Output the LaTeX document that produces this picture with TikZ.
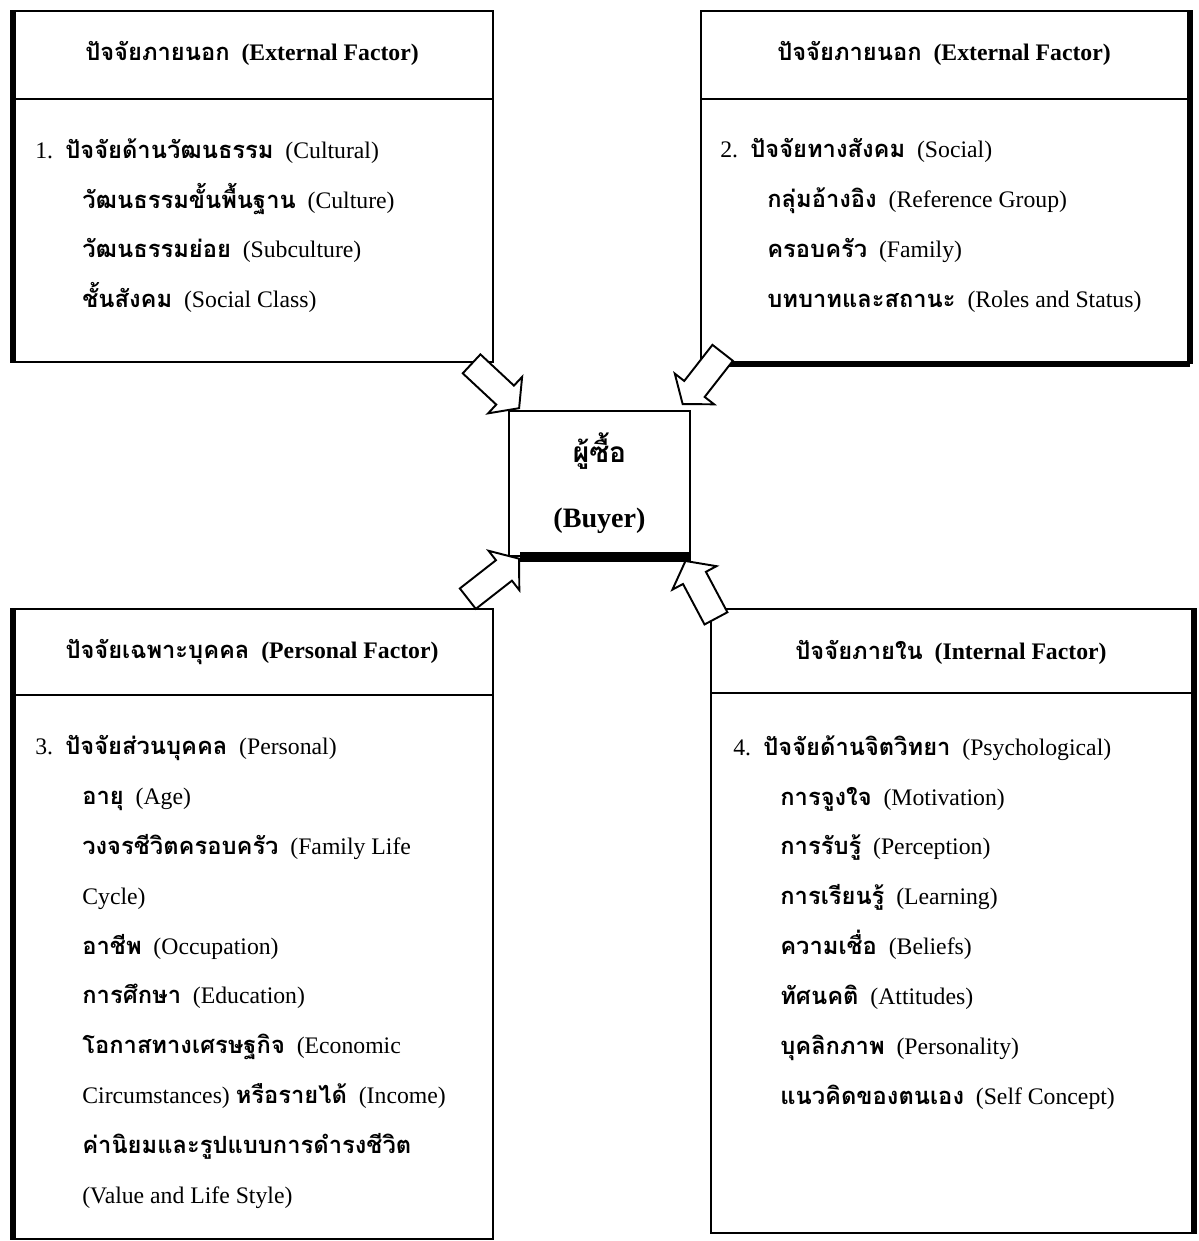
\documentclass[tikz,border=0pt]{standalone}
\usepackage{fontspec}
\setmainfont{Liberation Serif}
\newfontfamily\thaifont[Script=Thai]{Loma}
\newcommand{\thai}[1]{{\thaifont\bfseries #1}}
\newcommand{\ind}{\hspace*{0.94cm}}
\newcommand{\num}[1]{\makebox[0.6cm][l]{#1}}
\usetikzlibrary{calc,shapes.arrows}

\tikzset{
  frame/.style={draw, line width=1.1pt, anchor=north west, inner sep=0pt},
  sideline/.style={line width=3.4pt},
  head/.style={font=\fontsize{13.5}{16}\selectfont\bfseries},
  body/.style={anchor=north west, align=left, inner sep=0pt,
    font=\fontsize{13.5}{28.4}\selectfont},
  blockarrow/.style={single arrow, draw, line width=1.1pt, fill=white,
    minimum height=1.3cm, minimum width=0.96cm, single arrow head extend=0.24cm,
    single arrow tip angle=105, inner xsep=0pt, inner ysep=0.24cm, anchor=tip}
}

\begin{document}
\begin{tikzpicture}[x=0.02cm, y=-0.02cm]
    \useasboundingbox (0,0) rectangle (1198,1241);

    % Cultural (external)
    \node[frame, minimum width=9.58cm, minimum height=7.02cm] (cult) at (13,10) {};
    \draw[line width=1.1pt] (13,99) -- (492,99);
    \draw[sideline] (cult.north west) -- (cult.south west);
    \node[head] (culth) at (252,53) {\thai{ปัจจัยภายนอก}~~(External Factor)};
    \node[body] (cultb) at (35,138) {\num{1.}\thai{ปัจจัยด้านวัฒนธรรม}~~(Cultural)\\
        \ind\thai{วัฒนธรรมขั้นพื้นฐาน}~~(Culture)\\
        \ind\thai{วัฒนธรรมย่อย}~~(Subculture)\\
        \ind\thai{ชั้นสังคม}~~(Social Class)};

    % Social (external)
    \node[frame, minimum width=9.76cm, minimum height=7.04cm] (soc) at (700,10) {};
    \draw[line width=1.1pt] (700,99) -- (1188,99);
    \draw[sideline] (soc.north east) -- (soc.south east);
    \draw[sideline] (soc.south west) -- (soc.south east);
    \node[head] (soch) at (944,53) {\thai{ปัจจัยภายนอก}~~(External Factor)};
    \node[body] (socb) at (720,138) {\num{2.}\thai{ปัจจัยทางสังคม}~~(Social)\\
        \ind\thai{กลุ่มอ้างอิง}~~(Reference Group)\\
        \ind\thai{ครอบครัว}~~(Family)\\
        \ind\thai{บทบาทและสถานะ}~~(Roles and Status)};

    % Personal
    \node[frame, minimum width=9.58cm, minimum height=12.6cm] (pers) at (13,608) {};
    \draw[line width=1.1pt] (13,695) -- (492,695);
    \draw[sideline] (pers.north west) -- (pers.south west);
    \node[head] (persh) at (252,652) {\thai{ปัจจัยเฉพาะบุคคล}~~(Personal Factor)};
    \node[body] (persb) at (35,735) {\num{3.}\thai{ปัจจัยส่วนบุคคล}~~(Personal)\\
        \ind\thai{อายุ}~~(Age)\\
        \ind\thai{วงจรชีวิตครอบครัว}~~(Family Life\\
        \ind Cycle)\\
        \ind\thai{อาชีพ}~~(Occupation)\\
        \ind\thai{การศึกษา}~~(Education)\\
        \ind\thai{โอกาสทางเศรษฐกิจ}~~(Economic\\
        \ind Circumstances)~\thai{หรือรายได้}~~(Income)\\
        \ind\thai{ค่านิยมและรูปแบบการดำรงชีวิต}\\
        \ind(Value and Life Style)};

    % Psychological (internal)
    \node[frame, minimum width=9.64cm, minimum height=12.48cm] (psy) at (710,608) {};
    \draw[line width=1.1pt] (710,693) -- (1192,693);
    \draw[sideline] (psy.north east) -- (psy.south east);
    \node[head] (psyh) at (951,652) {\thai{ปัจจัยภายใน}~~(Internal Factor)};
    \node[body] (psyb) at (733,735) {\num{4.}\thai{ปัจจัยด้านจิตวิทยา}~~(Psychological)\\
        \ind\thai{การจูงใจ}~~(Motivation)\\
        \ind\thai{การรับรู้}~~(Perception)\\
        \ind\thai{การเรียนรู้}~~(Learning)\\
        \ind\thai{ความเชื่อ}~~(Beliefs)\\
        \ind\thai{ทัศนคติ}~~(Attitudes)\\
        \ind\thai{บุคลิกภาพ}~~(Personality)\\
        \ind\thai{แนวคิดของตนเอง}~~(Self Concept)};

    % Buyer
    \node[frame, minimum width=3.62cm, minimum height=2.9cm, align=center,
        font=\fontsize{16}{37}\selectfont\bfseries] (buyer) at (508,410)
        {\thai{ผู้ซื้อ}\\(Buyer)};
    \draw[line width=5.5pt] ($(buyer.south west)+(12,0)$) -- (buyer.south east);

    % arrows into the buyer
    \node[blockarrow, rotate=-43] (arrcult) at ($(buyer.north west)+(12,-1)$) {};
    \node[blockarrow, rotate=-128] (arrsoc) at ($(buyer.north east)+(-9,-5)$) {};
    \node[blockarrow, rotate=38] (arrpers) at ($(buyer.south west)+(12,1)$) {};
    \node[blockarrow, rotate=118] (arrpsy) at ($(buyer.south east)+(-6,3)$) {};
\end{tikzpicture}
\end{document}
